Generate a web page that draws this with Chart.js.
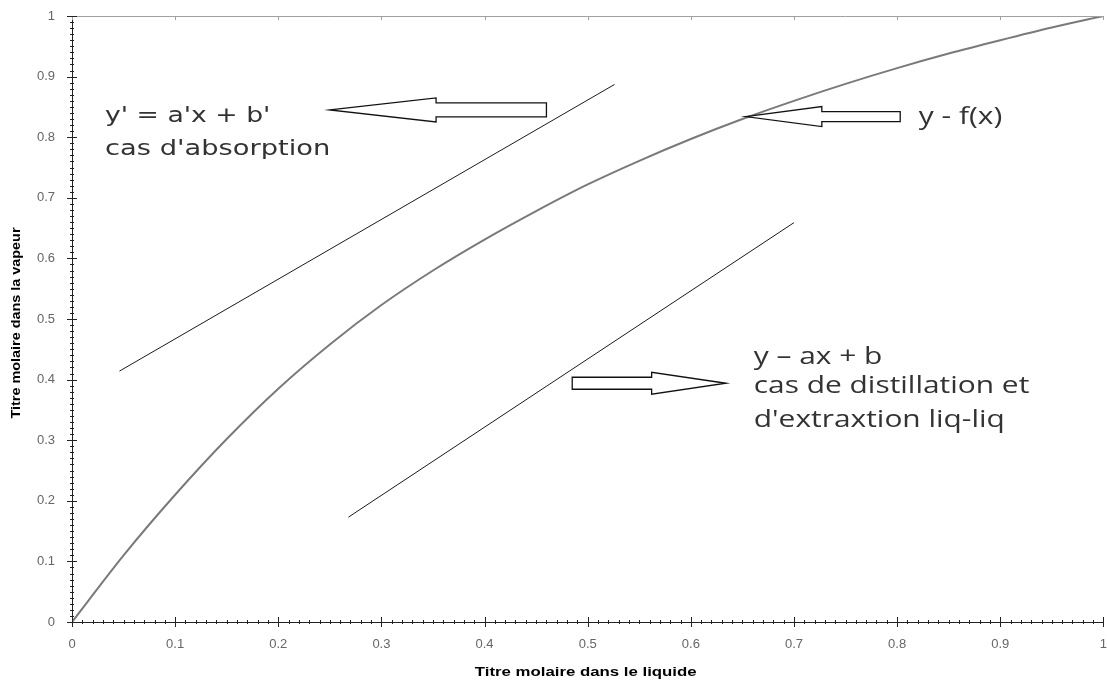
<!DOCTYPE html>
<html>
<head>
<meta charset="utf-8">
<title>Titre molaire</title>
<script src="https://cdn.jsdelivr.net/npm/chart.js@4/dist/chart.umd.min.js"></script>
<style>
  html, body { margin: 0; padding: 0; background: #fff; }
  #wrap { width: 1107px; height: 681px; }
</style>
</head>
<body>
<div id="wrap"><canvas id="chart" width="1107" height="681"></canvas></div>
<script>
// equilibrium curve y = f(x)
const curveX = [0, 0.05, 0.1, 0.15, 0.2, 0.25, 0.3, 0.35, 0.4, 0.45, 0.5,
                0.55, 0.6, 0.65, 0.7, 0.75, 0.8, 0.85, 0.9, 0.95, 1];
const curveY = [0, 0.11, 0.21, 0.302, 0.385, 0.458, 0.523, 0.58, 0.631, 0.678, 0.722,
                0.761, 0.797, 0.83, 0.86, 0.888, 0.914, 0.938, 0.96, 0.981, 1];

// operating line, absorption  y' = a'x + b'
const absorptionX = [0.046, 0.526];
const absorptionY = [0.414, 0.887];

// operating line, distillation / extraction  y = ax + b
const distillX = [0.268, 0.70];
const distillY = [0.173, 0.659];

// axis ticks
const xTicks = [0, 0.1, 0.2, 0.3, 0.4, 0.5, 0.6, 0.7, 0.8, 0.9, 1];
const xLabels = ["0", "0.1", "0.2", "0.3", "0.4", "0.5", "0.6", "0.7", "0.8", "0.9", "1"];
const yTicks = [0, 0.1, 0.2, 0.3, 0.4, 0.5, 0.6, 0.7, 0.8, 0.9, 1];
const yLabels = ["0", "0.1", "0.2", "0.3", "0.4", "0.5", "0.6", "0.7", "0.8", "0.9", "1"];
const minorStep = 0.01;

const xTitle = "Titre molaire dans le liquide";
const yTitle = "Titre molaire dans la vapeur";

// annotations (data units)
const arrows = [
  { tip: 0.250, base: 0.353, tail: 0.460, y: 0.845, shaft: 7, head: 12 },
  { tip: 0.653, base: 0.727, tail: 0.803, y: 0.834, shaft: 5, head: 10 },
  { tip: 0.634, base: 0.562, tail: 0.485, y: 0.394, shaft: 6, head: 11 }
];
const notes = [
  { x: 0.032, y: 0.834, text: "y' = a'x + b'", font: "21px 'DejaVu Sans'", stretch: 1.27 },
  { x: 0.032, y: 0.779, text: "cas d'absorption", font: "21px 'DejaVu Sans'", stretch: 1.3 },
  { x: 0.821, y: 0.832, text: "y - f(x)", font: "23px 'Open Sans'", stretch: 1.3 },
  { x: 0.661, y: 0.437, text: "y \u2013 ax + b", font: "23px 'Open Sans'", stretch: 1.3 },
  { x: 0.661, y: 0.388, text: "cas de distillation et", font: "23px 'Open Sans'", stretch: 1.3 },
  { x: 0.661, y: 0.333, text: "d'extraxtion liq-liq", font: "23px 'Open Sans'", stretch: 1.3 }
];

const toPts = (xs, ys) => xs.map((x, i) => ({ x: x, y: ys[i] }));

// text drawn with a horizontal stretch (the source picture is stretched)
function stretchText(ctx, text, px, py, font, stretch, angle, align) {
  ctx.save();
  ctx.font = font;
  ctx.textAlign = align;
  ctx.textBaseline = "middle";
  ctx.translate(px, py);
  ctx.rotate(angle);
  ctx.scale(stretch, 1);
  ctx.fillText(text, 0, 0);
  ctx.restore();
}

/* ================================
   Plugin: ticks, frame, arrows, notes
================================ */
const decorPlugin = {
  id: "decor",
  afterDraw(chart) {
    const { ctx, chartArea: a, scales: { x, y } } = chart;
    ctx.save();

    // top frame line
    ctx.strokeStyle = "#a0a0a0";
    ctx.lineWidth = 1;
    ctx.beginPath();
    ctx.moveTo(a.left, a.top + 0.5);
    ctx.lineTo(a.right, a.top + 0.5);
    ctx.stroke();
    xTicks.forEach(v => {
      const px = Math.round(x.getPixelForValue(v)) + 0.5;
      ctx.beginPath();
      ctx.moveTo(px, a.top);
      ctx.lineTo(px, a.top + 4);
      ctx.stroke();
    });

    // minor + major ticks on the axes
    ctx.strokeStyle = "#222";
    const n = Math.round(1 / minorStep);
    for (let i = 0; i <= n; i++) {
      const v = i * minorStep;
      const major = i % 10 === 0;
      const len = major ? 5 : 2;
      const px = Math.round(x.getPixelForValue(v)) + 0.5;
      ctx.beginPath();
      ctx.moveTo(px, a.bottom - len);
      ctx.lineTo(px, a.bottom + len);
      ctx.stroke();
      const py = Math.round(y.getPixelForValue(v)) + 0.5;
      ctx.beginPath();
      ctx.moveTo(a.left - len, py);
      ctx.lineTo(a.left + len, py);
      ctx.stroke();
    }

    // hollow block arrows
    ctx.strokeStyle = "#111";
    ctx.fillStyle = "#fff";
    ctx.lineWidth = 1.3;
    arrows.forEach(ar => {
      const tx = x.getPixelForValue(ar.tip);
      const bx = x.getPixelForValue(ar.base);
      const ex = x.getPixelForValue(ar.tail);
      const cy = y.getPixelForValue(ar.y);
      ctx.beginPath();
      ctx.moveTo(tx, cy);
      ctx.lineTo(bx, cy - ar.head);
      ctx.lineTo(bx, cy - ar.shaft);
      ctx.lineTo(ex, cy - ar.shaft);
      ctx.lineTo(ex, cy + ar.shaft);
      ctx.lineTo(bx, cy + ar.shaft);
      ctx.lineTo(bx, cy + ar.head);
      ctx.closePath();
      ctx.fill();
      ctx.stroke();
    });

    // text notes
    ctx.fillStyle = "#333";
    notes.forEach(nt => {
      stretchText(ctx, nt.text, x.getPixelForValue(nt.x), y.getPixelForValue(nt.y),
                  nt.font, nt.stretch, 0, "left");
    });

    // axis titles
    ctx.fillStyle = "#000";
    const titleFont = "bold 12px 'Liberation Sans', Arial";
    stretchText(ctx, xTitle, (a.left + a.right) / 2 - 2, a.bottom + 51, titleFont, 1.4, 0, "center");
    stretchText(ctx, yTitle, 17, (a.top + a.bottom) / 2 + 4, titleFont, 1.2, -Math.PI / 2, "center");

    ctx.restore();
  }
};

/* ================================
   Chart
================================ */
const hiddenTicks = (len) => ({
  display: true,
  drawOnChartArea: false,
  drawTicks: true,
  tickLength: len,
  color: "rgba(0,0,0,0)"
});

const ctx = document.getElementById("chart").getContext("2d");
new Chart(ctx, {
  type: "scatter",
  data: {
    datasets: [
      {
        label: "y = f(x)",
        data: toPts(curveX, curveY),
        showLine: true,
        borderColor: "#7a7a7a",
        borderWidth: 2,
        pointRadius: 0,
        cubicInterpolationMode: "monotone"
      },
      {
        label: "absorption",
        data: toPts(absorptionX, absorptionY),
        showLine: true,
        borderColor: "#1a1a1a",
        borderWidth: 1,
        pointRadius: 0
      },
      {
        label: "distillation",
        data: toPts(distillX, distillY),
        showLine: true,
        borderColor: "#1a1a1a",
        borderWidth: 1,
        pointRadius: 0
      }
    ]
  },
  options: {
    responsive: false,
    animation: false,
    layout: { padding: { top: 16, right: 2, left: 0, bottom: 0 } },
    plugins: {
      legend: { display: false },
      tooltip: { enabled: false }
    },
    scales: {
      x: {
        type: "linear",
        min: 0,
        max: 1,
        afterBuildTicks: s => { s.ticks = xTicks.map(v => ({ value: v })); },
        afterFit: s => { s.height = 59; },
        grid: hiddenTicks(15),
        border: { display: true, color: "#222", width: 1 },
        ticks: {
          padding: 0,
          maxRotation: 0,
          autoSkip: false,
          color: "#666",
          font: { family: "'Liberation Sans', Arial", size: 13 },
          callback: (v, i) => xLabels[i]
        }
      },
      y: {
        type: "linear",
        min: 0,
        max: 1,
        afterBuildTicks: s => { s.ticks = yTicks.map(v => ({ value: v })); },
        afterFit: s => { s.width = 72; },
        grid: hiddenTicks(17),
        border: { display: true, color: "#222", width: 1 },
        ticks: {
          padding: 0,
          autoSkip: false,
          color: "#666",
          font: { family: "'Liberation Sans', Arial", size: 13 },
          callback: (v, i) => yLabels[i]
        }
      }
    }
  },
  plugins: [decorPlugin]
});
</script>
</body>
</html>
